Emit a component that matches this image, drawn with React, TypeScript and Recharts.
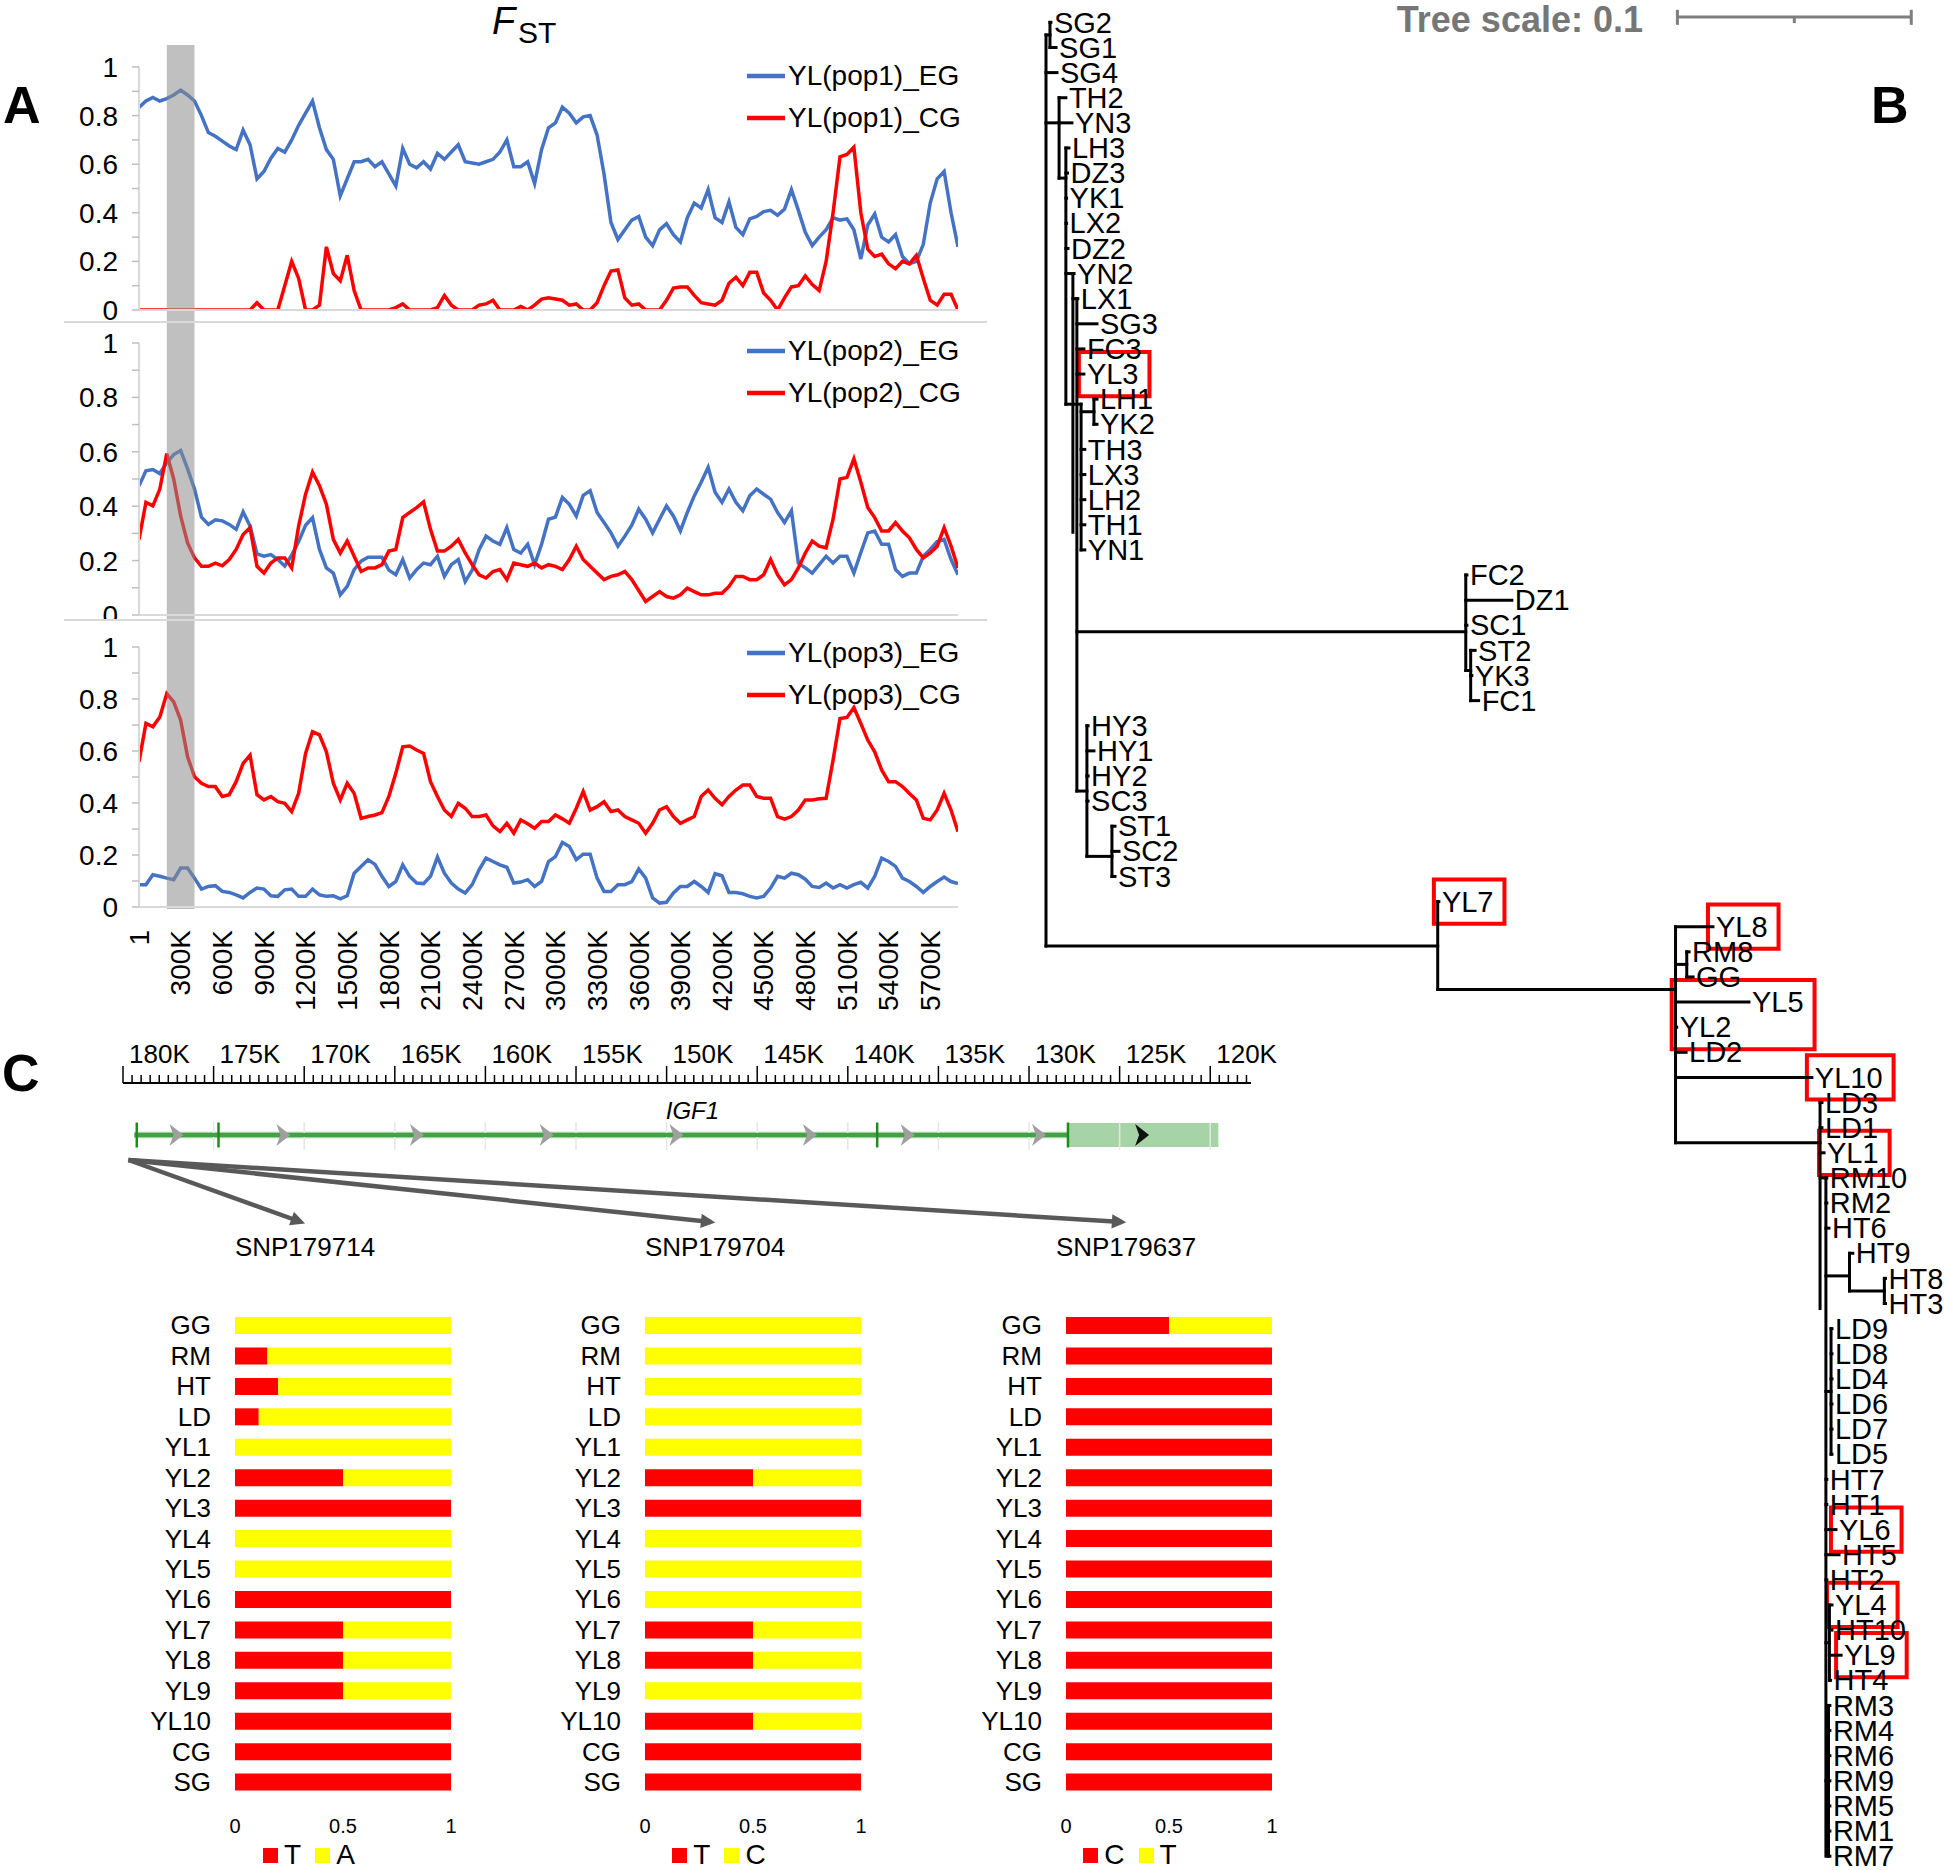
import React from 'react';
import {
  LineChart, Line, XAxis, YAxis, ReferenceArea, ReferenceLine,
  Legend, BarChart, Bar, ScatterChart, Scatter, ComposedChart,
} from 'recharts';

const FONT = '"Liberation Sans", Arial, Helvetica, sans-serif';
const BLUE = '#4472C4';
const RED = '#FF0000';
const YELLOW = '#FFFF00';

// ---------------- Panel A : FST windows ----------------
const fstPop1EG = [0.834,0.86,0.875,0.86,0.87,0.885,0.905,0.885,0.86,0.80,
 0.73,0.715,0.695,0.675,0.66,0.74,0.68,0.54,0.57,0.625,
 0.665,0.65,0.70,0.76,0.81,0.86,0.75,0.66,0.62,0.47,
 0.54,0.61,0.61,0.62,0.59,0.61,0.56,0.51,0.665,0.60,
 0.585,0.61,0.58,0.645,0.62,0.65,0.68,0.61,0.605,0.60,
 0.61,0.62,0.65,0.70,0.59,0.59,0.61,0.52,0.66,0.75,
 0.77,0.835,0.81,0.77,0.795,0.80,0.72,0.56,0.36,0.29,
 0.33,0.37,0.385,0.30,0.265,0.33,0.355,0.31,0.28,0.38,
 0.44,0.42,0.495,0.38,0.36,0.445,0.34,0.31,0.375,0.385,
 0.405,0.41,0.39,0.415,0.495,0.41,0.32,0.265,0.30,0.33,
 0.38,0.37,0.375,0.33,0.21,0.35,0.395,0.30,0.28,0.31,
 0.22,0.19,0.20,0.27,0.44,0.54,0.57,0.40,0.26];
const fstPop1CG = [0,0,0,0,0,0,0,0,0,0,
 0,0,0,0,0,0,0,0.03,0,0,
 0,0.10,0.20,0.13,0,0,0.02,0.26,0.15,0.12,
 0.225,0.08,0,0,0,0,0,0.01,0.025,0,
 0,0,0,0.01,0.06,0.02,0,0,0,0.02,
 0.025,0.04,0,0,0,0.015,0,0.02,0.045,0.05,
 0.045,0.04,0.02,0.025,0,0,0.03,0.10,0.16,0.165,
 0.05,0.02,0.025,0,0,0,0.04,0.09,0.095,0.095,
 0.06,0.03,0.025,0.02,0.04,0.11,0.135,0.10,0.155,0.155,
 0.07,0.04,0,0.05,0.095,0.10,0.14,0.105,0.08,0.20,
 0.40,0.63,0.64,0.67,0.40,0.25,0.22,0.23,0.19,0.17,
 0.20,0.19,0.225,0.13,0.04,0.02,0.065,0.065,0];
const fstPop2EG = [0.475,0.53,0.535,0.52,0.56,0.59,0.605,0.537,0.463,0.36,
 0.333,0.35,0.346,0.333,0.315,0.379,0.327,0.225,0.216,0.222,
 0.204,0.18,0.22,0.27,0.33,0.358,0.241,0.173,0.154,0.074,
 0.105,0.167,0.198,0.212,0.212,0.212,0.165,0.148,0.204,0.136,
 0.167,0.191,0.185,0.216,0.142,0.185,0.204,0.123,0.165,0.24,
 0.29,0.272,0.26,0.321,0.241,0.228,0.26,0.185,0.26,0.352,
 0.36,0.432,0.407,0.364,0.44,0.457,0.377,0.34,0.302,0.253,
 0.29,0.33,0.389,0.352,0.302,0.352,0.401,0.364,0.309,0.377,
 0.438,0.488,0.543,0.451,0.414,0.463,0.414,0.383,0.438,0.463,
 0.444,0.426,0.377,0.34,0.383,0.191,0.173,0.154,0.185,0.216,
 0.191,0.216,0.216,0.154,0.23,0.302,0.309,0.26,0.26,0.167,
 0.142,0.154,0.154,0.216,0.241,0.27,0.278,0.204,0.148];
const fstPop2CG = [0.278,0.414,0.401,0.463,0.593,0.50,0.364,0.265,0.21,0.179,
 0.179,0.191,0.181,0.204,0.241,0.296,0.321,0.179,0.154,0.191,
 0.21,0.21,0.173,0.327,0.444,0.525,0.475,0.407,0.278,0.228,
 0.272,0.216,0.16,0.173,0.173,0.185,0.235,0.241,0.358,0.377,
 0.395,0.416,0.315,0.235,0.235,0.253,0.278,0.228,0.185,0.148,
 0.136,0.16,0.167,0.13,0.191,0.185,0.179,0.191,0.173,0.185,
 0.179,0.167,0.204,0.253,0.204,0.179,0.154,0.13,0.142,0.148,
 0.16,0.13,0.09,0.05,0.068,0.086,0.068,0.062,0.074,0.099,
 0.086,0.074,0.074,0.08,0.08,0.105,0.142,0.142,0.13,0.13,
 0.148,0.204,0.148,0.111,0.13,0.173,0.228,0.272,0.253,0.247,
 0.352,0.50,0.506,0.574,0.488,0.395,0.358,0.309,0.309,0.34,
 0.309,0.284,0.241,0.21,0.228,0.253,0.321,0.253,0.173];
const fstPop3EG = [0.086,0.086,0.124,0.118,0.111,0.105,0.150,0.150,0.111,0.069,
 0.079,0.082,0.060,0.056,0.047,0.035,0.056,0.073,0.069,0.043,
 0.041,0.066,0.069,0.041,0.041,0.069,0.047,0.041,0.043,0.031,
 0.043,0.130,0.156,0.182,0.164,0.118,0.079,0.098,0.162,0.118,
 0.092,0.090,0.118,0.192,0.130,0.092,0.069,0.054,0.086,0.143,
 0.188,0.175,0.162,0.153,0.092,0.096,0.105,0.079,0.098,0.175,
 0.194,0.248,0.233,0.182,0.203,0.203,0.111,0.060,0.060,0.086,
 0.086,0.098,0.146,0.111,0.035,0.015,0.018,0.054,0.079,0.079,
 0.098,0.079,0.056,0.128,0.120,0.056,0.056,0.051,0.041,0.035,
 0.041,0.073,0.118,0.111,0.130,0.124,0.107,0.079,0.075,0.092,
 0.073,0.086,0.073,0.086,0.095,0.073,0.118,0.188,0.175,0.156,
 0.111,0.098,0.079,0.056,0.079,0.098,0.115,0.098,0.090];
const fstPop3CG = [0.558,0.706,0.693,0.731,0.821,0.789,0.719,0.578,0.501,0.476,
 0.463,0.463,0.425,0.432,0.482,0.552,0.584,0.432,0.412,0.425,
 0.405,0.399,0.367,0.437,0.591,0.674,0.662,0.597,0.476,0.412,
 0.476,0.437,0.341,0.348,0.354,0.363,0.425,0.514,0.616,0.619,
 0.604,0.591,0.482,0.425,0.373,0.348,0.399,0.380,0.348,0.348,
 0.354,0.312,0.290,0.322,0.284,0.335,0.320,0.303,0.329,0.329,
 0.354,0.339,0.322,0.380,0.444,0.373,0.386,0.405,0.367,0.373,
 0.348,0.335,0.322,0.284,0.322,0.373,0.386,0.348,0.322,0.335,
 0.348,0.425,0.450,0.418,0.393,0.425,0.450,0.469,0.469,0.425,
 0.418,0.418,0.348,0.338,0.348,0.373,0.412,0.412,0.416,0.418,
 0.565,0.725,0.729,0.767,0.706,0.642,0.597,0.527,0.482,0.482,
 0.463,0.437,0.412,0.341,0.335,0.373,0.437,0.373,0.290];
const fstXTickLabels = ['1','300K','600K','900K','1200K','1500K','1800K','2100K','2400K','2700K',
 '3000K','3300K','3600K','3900K','4200K','4500K','4800K','5100K','5400K','5700K'];
const fstWindowsPerLabel = 6;
const fstHighlight = [4, 8];
const fstYTicks = [0, 0.1, 0.2, 0.3, 0.4, 0.5, 0.6, 0.7, 0.8, 0.9, 1];

const fstRows = fstPop1EG.map((v, i) => ({
  i, p1e: v, p1c: fstPop1CG[i], p2e: fstPop2EG[i], p2c: fstPop2CG[i], p3e: fstPop3EG[i], p3c: fstPop3CG[i],
}));
const fstLastIdx = fstRows.length - 1;
const fstXTicks = fstXTickLabels.map((_, k) => k * fstWindowsPerLabel);

// ---------------- Panel B : tree ----------------
// [x, rowTop, rowBottom, parentX, connectRow]
const treeNodes: number[][] = [
  [0, 1.5, 37.77, 0, 1.5],
  [0.0017, 1, 2, 0, 1.5],
  [0.0056, 4, 7.2, 0, 5],
  [0.0085, 6, 16.2, 0.0056, 7.2],
  [0.0115, 11, 21.3, 0.0085, 11],
  [0.0132, 12, 31.6, 0.0115, 12],
  [0.0150, 16.2, 22, 0.0085, 16.2],
  [0.0205, 16, 17, 0.0150, 16.5],
  [0.1795, 23, 26.8, 0.0132, 25.26],
  [0.1816, 26, 28, 0.1795, 26.8],
  [0.0175, 29, 34.2, 0.0132, 31.6],
  [0.0282, 33, 35, 0.0175, 34.2],
  [0.1675, 36, 39.5, 0, 37.77],
  [0.2692, 37, 45.6, 0.1675, 39.5],
  [0.2740, 38, 39, 0.2692, 38.5],
  [0.3310, 44, 52.2, 0.2692, 45.6],
  [0.3335, 47, 74, 0.3310, 47],
  [0.3436, 50, 51.5, 0.3335, 50.9],
  [0.3585, 51, 52, 0.3436, 51.5],
  [0.3357, 53, 58, 0.3335, 55.5],
  [0.3350, 64, 67, 0.3335, 65.5],
  [0.3346, 68, 74, 0.3335, 71],
];
// [name, parentX, tipX]  (row = order)
const treeLeaves: [string, number, number][] = [
  ['SG2', 0.0017, 0.0021], ['SG1', 0.0017, 0.0043], ['SG4', 0, 0.0047], ['TH2', 0.0056, 0.0085],
  ['YN3', 0.0056, 0.0111], ['LH3', 0.0085, 0.0098], ['DZ3', 0.0085, 0.0092], ['YK1', 0.0085, 0.0088],
  ['LX2', 0.0085, 0.0088], ['DZ2', 0.0085, 0.0094], ['YN2', 0.0115, 0.0120], ['LX1', 0.0132, 0.0136],
  ['SG3', 0.0132, 0.0218], ['FC3', 0.0132, 0.0162], ['YL3', 0.0132, 0.0162], ['LH1', 0.0205, 0.0218],
  ['YK2', 0.0205, 0.0218], ['TH3', 0.0150, 0.0166], ['LX3', 0.0150, 0.0166], ['LH2', 0.0150, 0.0166],
  ['TH1', 0.0150, 0.0166], ['YN1', 0.0150, 0.0166], ['FC2', 0.1795, 0.1800], ['DZ1', 0.1795, 0.1992],
  ['SC1', 0.1795, 0.1800], ['ST2', 0.1816, 0.1835], ['YK3', 0.1816, 0.1821], ['FC1', 0.1816, 0.1850],
  ['HY3', 0.0175, 0.0180], ['HY1', 0.0175, 0.0205], ['HY2', 0.0175, 0.0180], ['SC3', 0.0175, 0.0180],
  ['ST1', 0.0282, 0.0295], ['SC2', 0.0282, 0.0312], ['ST3', 0.0282, 0.0295], ['YL7', 0.1675, 0.1680],
  ['YL8', 0.2692, 0.2852], ['RM8', 0.2740, 0.2750], ['GG', 0.2740, 0.2767], ['YL5', 0.2692, 0.3006],
  ['YL2', 0.2692, 0.2697], ['LD2', 0.2692, 0.2737], ['YL10', 0.2692, 0.3275], ['LD3', 0.3310, 0.3318],
  ['LD1', 0.3310, 0.3318], ['YL1', 0.3310, 0.3327], ['RM10', 0.3335, 0.3339], ['RM2', 0.3335, 0.3339],
  ['HT6', 0.3335, 0.3348], ['HT9', 0.3436, 0.3450], ['HT8', 0.3585, 0.3590], ['HT3', 0.3585, 0.3590],
  ['LD9', 0.3357, 0.3361], ['LD8', 0.3357, 0.3361], ['LD4', 0.3357, 0.3361], ['LD6', 0.3357, 0.3361],
  ['LD7', 0.3357, 0.3361], ['LD5', 0.3357, 0.3361], ['HT7', 0.3335, 0.3339], ['HT1', 0.3335, 0.3339],
  ['YL6', 0.3335, 0.3378], ['HT5', 0.3335, 0.3391], ['HT2', 0.3335, 0.3339], ['YL4', 0.3350, 0.3361],
  ['HT10', 0.3350, 0.3361], ['YL9', 0.3350, 0.3400], ['HT4', 0.3350, 0.3355], ['RM3', 0.3346, 0.3352],
  ['RM4', 0.3346, 0.3352], ['RM6', 0.3346, 0.3352], ['RM9', 0.3346, 0.3352], ['RM5', 0.3346, 0.3352],
  ['RM1', 0.3346, 0.3352], ['RM7', 0.3346, 0.3352],
];
const treeHighlights: string[][] = [['YL3'], ['YL7'], ['YL8'], ['YL5', 'YL2'], ['YL10'], ['YL1'], ['YL6'], ['YL4'], ['YL9']];
const treeScaleLength = 0.1;
const treeScaleStart = 0.27;

// ---------------- Panel C : gene + SNP frequencies ----------------
const rulerLabels = ['180K','175K','170K','165K','160K','155K','150K','145K','140K','135K','130K','125K','120K'];
const geneIntronSpan = [179.37, 127.85];
const geneUtrSpan = [127.85, 119.55];
const geneExonMarks = [179.24, 174.73, 138.38, 127.85];
const geneStrandArrows = [177.05, 171.15, 163.78, 156.62, 149.46, 142.09, 136.70, 129.45];
const geneUtrArrow = 123.76;
const snpNames = ['SNP179714', 'SNP179704', 'SNP179637'];
const snpPositionK = 179.7;

const snpPops = ['GG','RM','HT','LD','YL1','YL2','YL3','YL4','YL5','YL6','YL7','YL8','YL9','YL10','CG','SG'];
const snp179714_T = [0, 0.15, 0.2, 0.11, 0, 0.5, 1, 0, 0, 1, 0.5, 0.5, 0.5, 1, 1, 1];
const snp179714_A = [1, 0.85, 0.8, 0.89, 1, 0.5, 0, 1, 1, 0, 0.5, 0.5, 0.5, 0, 0, 0];
const snp179704_T = [0, 0, 0, 0, 0, 0.5, 1, 0, 0, 0, 0.5, 0.5, 0, 0.5, 1, 1];
const snp179704_C = [1, 1, 1, 1, 1, 0.5, 0, 1, 1, 1, 0.5, 0.5, 1, 0.5, 0, 0];
const snp179637_C = [0.5, 1, 1, 1, 1, 1, 1, 1, 1, 1, 1, 1, 1, 1, 1, 1];
const snp179637_T = [0.5, 0, 0, 0, 0, 0, 0, 0, 0, 0, 0, 0, 0, 0, 0, 0];

const snp1Rows = snpPops.map((pop, i) => ({ pop, T: snp179714_T[i], A: snp179714_A[i] }));
const snp2Rows = snpPops.map((pop, i) => ({ pop, T: snp179704_T[i], C: snp179704_C[i] }));
const snp3Rows = snpPops.map((pop, i) => ({ pop, C: snp179637_C[i], T: snp179637_T[i] }));

// ---------------- helpers ----------------
const fmtFstY = (v: number) => {
  const t = Math.round(v * 10);
  return t % 2 === 0 ? String(t / 10) : '';
};

const FstXTick = (props: any) => {
  const { x, y, payload } = props;
  const label = fstXTickLabels[Math.round(payload.value / fstWindowsPerLabel)];
  return (
    <text x={0} y={0} transform={`translate(${x},${y + 23}) rotate(-90)`} textAnchor="end" dy="0.35em"
      fontSize={28} fill="#000" fontFamily={FONT}>{label}</text>
  );
};

const FstLegend = (props: any) => {
  const order: string[] = props.order || [];
  const items = [...(props.payload || [])].sort((a: any, b: any) => order.indexOf(a.value) - order.indexOf(b.value));
  return (
    <div style={{ fontFamily: FONT }}>
      {items.map((e: any) => (
        <div key={e.value} style={{ display: 'flex', alignItems: 'center', height: 42 }}>
          <svg width={38} height={10} style={{ display: 'block' }}>
            <line x1={0} y1={5} x2={38} y2={5} stroke={e.color} strokeWidth={4.5} />
          </svg>
          <span style={{ fontSize: 28, color: '#000', marginLeft: 3, lineHeight: '32px', whiteSpace: 'nowrap' }}>{e.value}</span>
        </div>
      ))}
    </div>
  );
};

type FstProps = {
  top: number; height: number; mTop: number; mBottom: number; xH: number;
  eKey: string; cKey: string; eName: string; cName: string; legendTop: number; showX: boolean;
  bandTopInset: number; bandBottom: number;
};

function FstPanel(p: FstProps) {
  const plotH = p.height - p.mTop - p.mBottom - p.xH;
  const bandY2 = 1 + (p.mTop - p.bandTopInset) / plotH;
  const bandY1 = -p.bandBottom / plotH;
  return (
    <div style={{ position: 'absolute', left: 0, top: p.top }}>
      <LineChart width={1000} height={p.height} data={fstRows} margin={{ top: p.mTop, right: 42, bottom: p.mBottom, left: 0 }}>
        <XAxis type="number" dataKey="i" domain={[0, fstLastIdx]} ticks={p.showX ? fstXTicks : []} interval={0}
          tick={p.showX ? <FstXTick /> : false} tickLine={false} tickSize={0} tickMargin={0}
          axisLine={{ stroke: '#d9d9d9', strokeWidth: 2 }} height={p.xH} allowDataOverflow />
        <YAxis type="number" domain={[0, 1]} ticks={fstYTicks} interval={0} width={139} tickSize={7} tickMargin={14}
          tickLine={{ stroke: '#bfbfbf', strokeWidth: 1.5 }} axisLine={{ stroke: '#d9d9d9', strokeWidth: 2 }}
          tick={{ fontSize: 28, fill: '#000', fontFamily: FONT }} tickFormatter={fmtFstY} allowDataOverflow />
        <Line dataKey={p.eKey} name={p.eName} stroke={BLUE} strokeWidth={3.5} dot={false} type="linear" isAnimationActive={false} />
        <Line dataKey={p.cKey} name={p.cName} stroke={RED} strokeWidth={3.5} dot={false} type="linear" isAnimationActive={false} />
        <ReferenceArea x1={fstHighlight[0]} x2={fstHighlight[1]} y1={bandY1} y2={bandY2} fill="#8c8c8c" fillOpacity={0.55}
          stroke="none" ifOverflow="visible" {...({ zIndex: 450 } as any)} />
        <Legend content={<FstLegend order={[p.eName, p.cName]} />} layout="vertical" verticalAlign="middle" align="center"
          wrapperStyle={{ left: 747, top: p.legendTop, width: 250 }} />
      </LineChart>
    </div>
  );
}

const CHAR_W: Record<string, number> = { Y: 0.667, L: 0.556 };
const approxWidth = (s: string, size: number) =>
  s.split('').reduce((a, c) => a + (CHAR_W[c] ?? (c >= '0' && c <= '9' ? 0.556 : 0.667)), 0) * size;

const TREE_LEFT = 1000, TREE_W = 944, TREE_H = 1870, TREE_ML = 46;
const TREE_X_MAX = 0.384;
const TREE_FONT = 29;
const treePxPerUnit = (TREE_W - TREE_ML) / TREE_X_MAX;

const LeafLabel = (props: any) => {
  const { cx, cy } = props;
  const name = props.payload?.name ?? props.name;
  return (
    <text x={cx + 3} y={cy} dy="0.35em" fontSize={TREE_FONT} fill="#000" fontFamily={FONT}>{name}</text>
  );
};

function TreePanel() {
  const leafRows = treeLeaves.map(([name, px, tip], k) => ({ name, x: tip, y: k + 1, px }));
  const segs: { a: number[]; b: number[] }[] = [];
  treeNodes.forEach(([x, r1, r2, px, rc]) => {
    segs.push({ a: [x, r1], b: [x, r2] });
    if (px !== x) segs.push({ a: [px, rc], b: [x, rc] });
  });
  leafRows.forEach((l) => { if (l.x > l.px) segs.push({ a: [l.px, l.y], b: [l.x, l.y] }); });
  const boxes = treeHighlights.map((g) => {
    const ls = g.map((n) => leafRows.find((l) => l.name === n)!);
    return {
      key: g.join('-'),
      x1: Math.min(...ls.map((l) => l.x)) - 5 / treePxPerUnit,
      x2: Math.max(...ls.map((l) => l.x + (3 + approxWidth(l.name, TREE_FONT) + 11) / treePxPerUnit)),
      y1: Math.min(...ls.map((l) => l.y)) - 0.88,
      y2: Math.max(...ls.map((l) => l.y)) + 0.88,
    };
  });
  const sb0 = treeScaleStart, sb1 = treeScaleStart + treeScaleLength, sbm = treeScaleStart + treeScaleLength / 2;
  const scaleSegs = [
    { a: [sb0, 0.79], b: [sb1, 0.79] },
    { a: [sb0, 0.5], b: [sb0, 1.1] },
    { a: [sb1, 0.5], b: [sb1, 1.1] },
    { a: [sbm, 0.79], b: [sbm, 1.03] },
  ];
  return (
    <div style={{ position: 'absolute', left: TREE_LEFT, top: 0 }}>
      <ScatterChart width={TREE_W} height={TREE_H} margin={{ top: 0, right: 0, bottom: 0, left: TREE_ML }}>
        <XAxis type="number" dataKey="x" domain={[0, TREE_X_MAX]} hide allowDataOverflow />
        <YAxis type="number" dataKey="y" domain={[0.11, 74.55]} reversed hide allowDataOverflow />
        {boxes.map((b) => (
          <ReferenceArea key={b.key} x1={b.x1} x2={b.x2} y1={b.y1} y2={b.y2} fill="none" fillOpacity={0}
            stroke={RED} strokeWidth={4} ifOverflow="visible" />
        ))}
        {segs.map((s, k) => (
          <ReferenceLine key={'t' + k} segment={[{ x: s.a[0], y: s.a[1] }, { x: s.b[0], y: s.b[1] }]}
            stroke="#000" strokeWidth={3} strokeLinecap="square" ifOverflow="visible" />
        ))}
        {scaleSegs.map((s, k) => (
          <ReferenceLine key={'s' + k} segment={[{ x: s.a[0], y: s.a[1] }, { x: s.b[0], y: s.b[1] }]}
            stroke="#7f7f7f" strokeWidth={3} ifOverflow="visible" />
        ))}
        <Scatter data={leafRows} shape={LeafLabel} isAnimationActive={false} />
      </ScatterChart>
    </div>
  );
}

// gene panel
const GENE_LEFT = 123, GENE_TOP = 1030, GENE_W = 1300, GENE_PLOT_RIGHT = 1251, GENE_AXIS_H = 53, GENE_H = 153;
const GENE_DOMAIN: [number, number] = [117.75, 180];
const rulerTicks: number[] = [];
for (let v = 118; v <= 180.001; v += 0.5) rulerTicks.push(Math.round(v * 10) / 10);
const rulerMajor = rulerLabels.map((l) => parseFloat(l));
const geneArrowRows = [
  ...geneStrandArrows.map((k) => ({ k, y: 0, utr: false })),
  { k: geneUtrArrow, y: 0, utr: true },
];

const RulerTick = (props: any) => {
  const { x, y, payload } = props;
  const v = payload.value;
  const idx = rulerMajor.findIndex((m) => Math.abs(m - v) < 1e-6);
  const major = idx >= 0;
  return (
    <g>
      <line x1={x} x2={x} y1={y} y2={y - (major ? 17 : 8)} stroke="#000" strokeWidth={1.5} />
      {major && (
        <text x={x + 6} y={y - 20} fontSize={26} fill="#000" fontFamily={FONT}>{rulerLabels[idx]}</text>
      )}
    </g>
  );
};

const ChevronShape = (props: any) => {
  const { cx, cy } = props;
  const utr = props.payload?.utr ?? props.utr;
  const c = utr ? '#111' : '#9f9f9f';
  return <path d={`M${cx - 7},${cy - 11} L${cx + 7},${cy} L${cx - 7},${cy + 11} L${cx - 3},${cy} Z`} fill={c} />;
};

function GenePanel() {
  const grid = rulerMajor.filter((m) => m < 176 && m > 119);
  return (
    <div style={{ position: 'absolute', left: 0, top: GENE_TOP }}>
      <ComposedChart width={GENE_W} height={GENE_H} data={geneArrowRows} margin={{ top: 0, right: GENE_W - GENE_PLOT_RIGHT, bottom: 0, left: GENE_LEFT }}>
        <XAxis type="number" dataKey="k" orientation="top" reversed domain={GENE_DOMAIN} ticks={rulerTicks} interval={0}
          tick={<RulerTick />} tickLine={false} tickSize={0} tickMargin={0}
          axisLine={{ stroke: '#000', strokeWidth: 2 }} height={GENE_AXIS_H} allowDataOverflow />
        <YAxis type="number" dataKey="y" domain={[-0.96, 1.04]} hide allowDataOverflow />
        {grid.map((g) => (
          <ReferenceLine key={'g' + g} segment={[{ x: g, y: -0.3 }, { x: g, y: 0.26 }]} stroke="#e6e6e6" strokeWidth={1.5} />
        ))}
        <ReferenceArea x1={geneIntronSpan[0]} x2={geneIntronSpan[1]} y1={-0.065} y2={0.065} fill="#9fd09f" fillOpacity={1} stroke="none" />
        <ReferenceArea x1={geneUtrSpan[0]} x2={geneUtrSpan[1]} y1={-0.24} y2={0.24} fill="#a6d4a6" fillOpacity={1} stroke="none" />
        <ReferenceLine segment={[{ x: geneIntronSpan[0], y: 0 }, { x: geneIntronSpan[1], y: 0 }]} stroke="#44a044" strokeWidth={4} />
        {geneExonMarks.map((e) => (
          <ReferenceLine key={'e' + e} segment={[{ x: e, y: -0.25 }, { x: e, y: 0.25 }]} stroke="#1f8a1f" strokeWidth={2.5} />
        ))}
        <Scatter dataKey="y" data={geneArrowRows} shape={ChevronShape} isAnimationActive={false} />
      </ComposedChart>
    </div>
  );
}

const BarLegend = (props: any) => {
  const order: string[] = props.order || [];
  const items = [...(props.payload || [])].sort((a: any, b: any) => order.indexOf(a.value) - order.indexOf(b.value));
  return (
    <div style={{ display: 'flex', justifyContent: 'center', alignItems: 'center', fontFamily: FONT, fontSize: 28, lineHeight: '30px', height: 30 }}>
      {items.map((e: any, k: number) => (
        <span key={e.value} style={{ display: 'inline-flex', alignItems: 'center', marginLeft: k === 0 ? 0 : 14 }}>
          <span style={{ width: 15, height: 15, background: e.color, display: 'inline-block', marginRight: 6 }} />
          <span style={{ color: '#000', fontSize: 28 }}>{e.value}</span>
        </span>
      ))}
    </div>
  );
};

const SNP_YAXIS_W = 100;

function SnpBars({ left, plotW, legendCenter, data, k1, k2 }: { left: number; plotW: number; legendCenter: number; data: any[]; k1: string; k2: string }) {
  const width = SNP_YAXIS_W + plotW + 7;
  return (
    <div style={{ position: 'absolute', left, top: 1290 }}>
      <BarChart layout="vertical" width={width} height={580} data={data} margin={{ top: 20, right: 7, bottom: 0, left: 0 }}>
        <XAxis type="number" domain={[0, 1]} ticks={[0, 0.5, 1]} interval={0} axisLine={false} tickLine={false}
          tickSize={0} tickMargin={22} height={43} tick={{ fontSize: 20, fill: '#000', fontFamily: FONT }} />
        <YAxis type="category" dataKey="pop" width={SNP_YAXIS_W} axisLine={false} tickLine={false} tickSize={0} tickMargin={24}
          interval={0} tick={{ fontSize: 26, fill: '#000', fontFamily: FONT }} />
        <Bar dataKey={k1} name={k1} stackId="s" fill={RED} barSize={17} isAnimationActive={false} />
        <Bar dataKey={k2} name={k2} stackId="s" fill={YELLOW} barSize={17} isAnimationActive={false} />
        <Legend verticalAlign="bottom" align="center" content={<BarLegend order={[k1, k2]} />}
          wrapperStyle={{ left: 0, width: 2 * (legendCenter - left) }} />
      </BarChart>
    </div>
  );
}

const snpCharts = [
  { left: 135, plotW: 216, legendCenter: 309, data: snp1Rows, k1: 'T', k2: 'A' },
  { left: 545, plotW: 216, legendCenter: 719, data: snp2Rows, k1: 'T', k2: 'C' },
  { left: 966, plotW: 206, legendCenter: 1130, data: snp3Rows, k1: 'C', k2: 'T' },
];

function Overlay() {
  const geneX = (k: number) => GENE_LEFT + (GENE_DOMAIN[1] - k) / (GENE_DOMAIN[1] - GENE_DOMAIN[0]) * (GENE_PLOT_RIGHT - GENE_LEFT);
  const ox = geneX(snpPositionK);
  const oy = 1160;
  const geneMid = geneX((geneIntronSpan[0] + geneUtrSpan[1]) / 2) + 16;
  return (
    <svg width={1944} height={1870} style={{ position: 'absolute', left: 0, top: 0, pointerEvents: 'none' }} fontFamily={FONT}>
      <defs>
        <marker id="ah" viewBox="0 0 10 10" refX="7" refY="5" markerWidth="3.6" markerHeight="3.2" orient="auto">
          <path d="M0,0 L10,5 L0,10 z" fill="#595959" />
        </marker>
      </defs>
      <text x={3} y={123} fontSize={52} fontWeight="bold" fill="#000">A</text>
      <text x={1871} y={123} fontSize={52} fontWeight="bold" fill="#000">B</text>
      <text x={2} y={1091} fontSize={52} fontWeight="bold" fill="#000">C</text>
      <text x={492} y={34} fontSize={38} fontStyle="italic" fill="#000">F</text>
      <text x={518} y={43} fontSize={30} fill="#000">ST</text>
      <line x1={64} x2={987} y1={322} y2={322} stroke="#d9d9d9" strokeWidth={2} />
      <line x1={64} x2={987} y1={620} y2={620} stroke="#d9d9d9" strokeWidth={2} />
      <text x={1643} y={32} fontSize={36} fontWeight="bold" fill="#767676" textAnchor="end">Tree scale: 0.1</text>
      <text x={geneMid} y={1119} fontSize={24} fontStyle="italic" fill="#000" textAnchor="middle">IGF1</text>
      {snpCharts.map((c, k) => {
        const cx = c.legendCenter - 4;
        return (
          <g key={snpNames[k]}>
            <line x1={ox} y1={oy} x2={cx - 4} y2={1222} stroke="#595959" strokeWidth={4.5} markerEnd="url(#ah)" />
            <text x={cx} y={1256} fontSize={26} fill="#000" textAnchor="middle">{snpNames[k]}</text>
          </g>
        );
      })}
    </svg>
  );
}

export default function App() {
  return (
    <div style={{ position: 'absolute', left: 0, top: 0, width: 1944, height: 1870, background: '#fff', overflow: 'hidden', fontFamily: FONT }}>
      <TreePanel />
      <FstPanel top={0} height={322} mTop={67} mBottom={11} xH={1} eKey="p1e" cKey="p1c" eName="YL(pop1)_EG" cName="YL(pop1)_CG"
        legendTop={55} showX={false} bandTopInset={45} bandBottom={12} />
      <FstPanel top={322} height={298} mTop={21} mBottom={4} xH={1} eKey="p2e" cKey="p2c" eName="YL(pop2)_EG" cName="YL(pop2)_CG"
        legendTop={8} showX={false} bandTopInset={0} bandBottom={5} />
      <FstPanel top={620} height={420} mTop={27} mBottom={13} xH={120} eKey="p3e" cKey="p3c" eName="YL(pop3)_EG" cName="YL(pop3)_CG"
        legendTop={12} showX={true} bandTopInset={0} bandBottom={2} />
      <GenePanel />
      {snpCharts.map((c) => (
        <SnpBars key={c.left} left={c.left} plotW={c.plotW} legendCenter={c.legendCenter} data={c.data} k1={c.k1} k2={c.k2} />
      ))}
      <Overlay />
    </div>
  );
}
